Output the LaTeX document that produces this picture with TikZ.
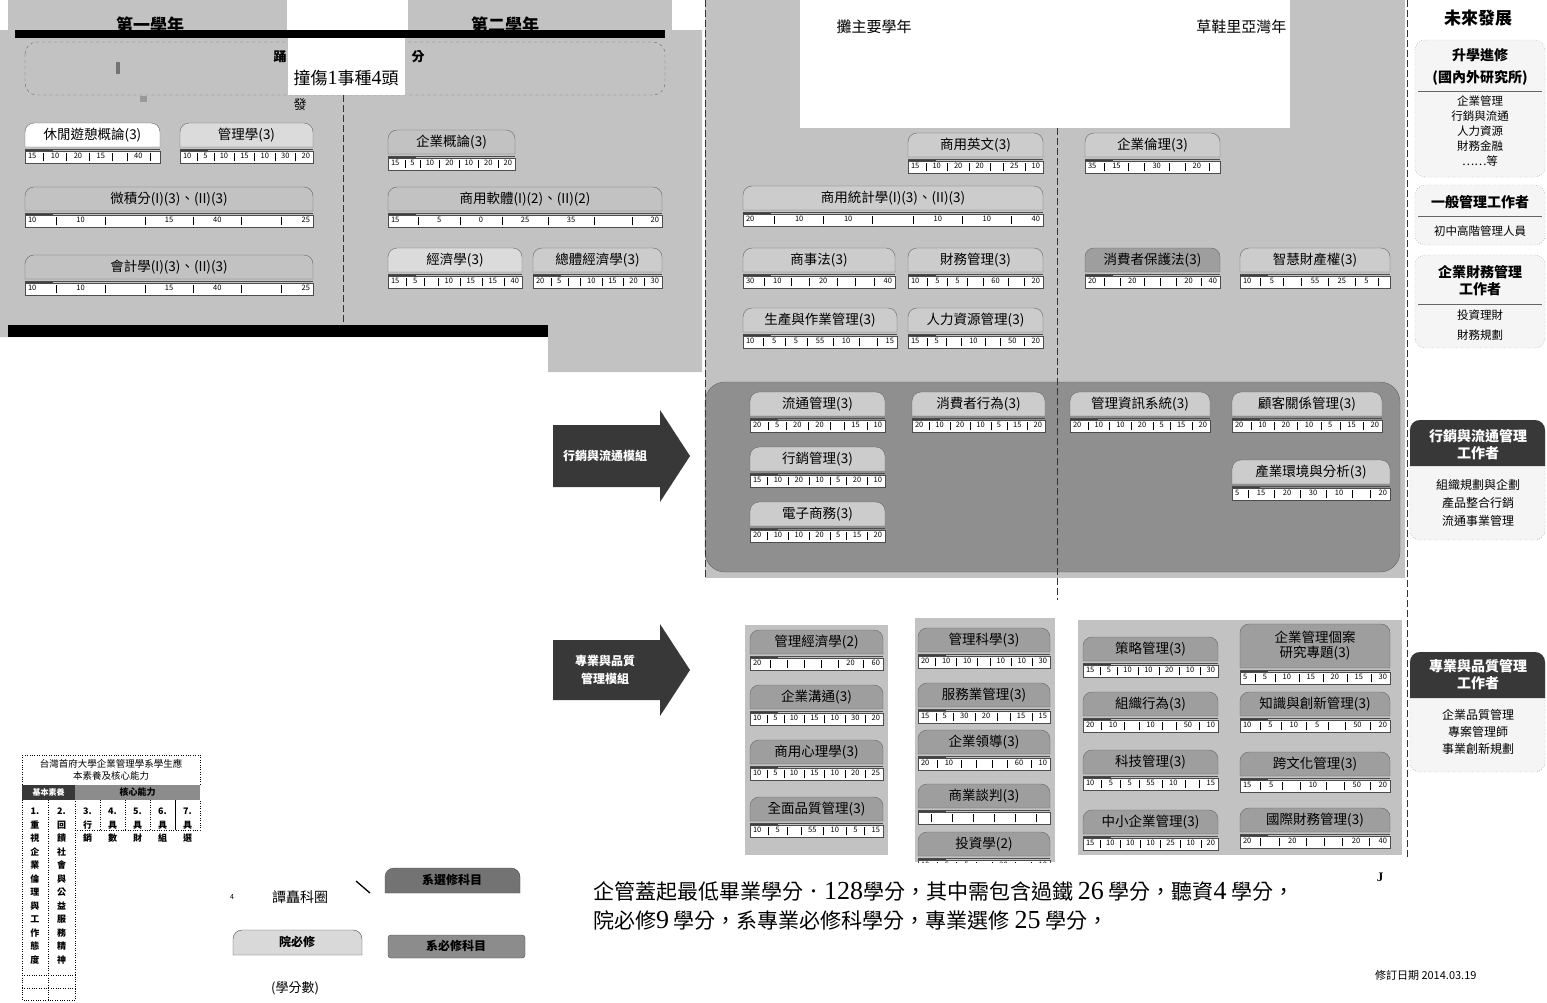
\documentclass[tikz,border=0pt]{standalone}
\usepackage{fontspec}
\setmainfont{Noto Sans CJK TC}
\newfontfamily\sernum{Liberation Serif}
\usetikzlibrary{calc}
\definecolor{bgg}{gray}{0.76}
\definecolor{modg}{gray}{0.56}
\definecolor{tabl}{gray}{0.86}
\definecolor{tabm}{gray}{0.80}
\definecolor{tabd}{gray}{0.62}
\definecolor{darkg}{gray}{0.22}
\def\tabh{24}
\newcommand\SEP{\hfill\vrule height 6pt depth 2.5pt width 0.4pt\hfill}
\newcommand\crs[7]{%
 \draw[draw=black!60, fill=#7] ({#2},{#4+\tabh}) [rounded corners=9pt] -- ({#2},{#4}) -- ({#3},{#4}) [sharp corners] -- ({#3},{#4+\tabh}) -- cycle;
 \node[crsname] (#1) at ({(#2+#3)/2},{#4+\tabh/2}) {#5};
 \draw[fill=white, draw=black!70] ({#2},{#4+\tabh+4}) rectangle ({#3},{#4+\tabh+16});
 \fill[black!75] ({#2},{#4+\tabh+1.5}) rectangle ({#2+28},{#4+\tabh+4});
 \draw[black!70] ({#2},{#4+\tabh+2.5}) -- ({#3},{#4+\tabh+2.5});
 \node[crsnum] (#1n) at ({(#2+#3)/2},{#4+\tabh+10}) {\hbox to \dimexpr #3pt-#2pt-6pt\relax{#6}};
}
\tikzset{
 crsname/.style={font=\fontsize{13.5}{15}\selectfont, inner sep=0pt, align=center},
 crsnum/.style={font=\fontsize{7.5}{8}\selectfont, inner sep=0pt},
 divline/.style={draw=black!80, dash pattern=on 7pt off 3pt, line width=1pt},
 fbox/.style={draw=black!60, dotted, fill=black!4, rounded corners=10pt},
 hdr/.style={font=\fontsize{14}{17}\selectfont\bfseries, inner sep=0pt, align=center},
 lst/.style={font=\fontsize{11.5}{15}\selectfont, inner sep=0pt, align=center},
 vt/.style={font=\fontsize{9}{13.5}\selectfont\bfseries, align=center, anchor=north, inner sep=0pt},
 arrowtxt/.style={font=\fontsize{12}{18}\selectfont\bfseries, text=white, align=center, inner sep=0pt},
}
\begin{document}
\begin{tikzpicture}[x=1pt,y=-1pt]
\useasboundingbox (0,0) rectangle (1547,1002);
\fill[white] (0,0) rectangle (1547,1002);

% ---------- left region (year 1 & 2)
\fill[bgg] (8,0) rectangle (287,30);
\fill[bgg] (408,0) rectangle (672,30);
\fill[bgg] (0,30) -- (702,30) -- (702,372) -- (548,372) -- (548,337) -- (0,337) -- cycle;
\node[font=\fontsize{17}{17}\selectfont\bfseries] (y1) at (150,25) {第一學年};
\node[font=\fontsize{17}{17}\selectfont\bfseries] (y2) at (505,25) {第二學年};
\fill[black] (15,30) rectangle (665,38);
\draw[draw=black!60, dashed, fill=bgg, rounded corners=12pt] (25,42) rectangle (665,95);
\node[font=\fontsize{13}{13}\selectfont\bfseries] (t1) at (280,57) {踊};
\node[font=\fontsize{13}{13}\selectfont\bfseries] (t2) at (418,57) {分};
\fill[white] (288,38) rectangle (405,95);
\node[font=\fontsize{17}{17}\selectfont] (t3) at (346,78) {撞傷{\sernum\fontsize{20}{20}\selectfont 1}事種{\sernum\fontsize{20}{20}\selectfont 4}頭};
\node[font=\fontsize{13}{13}\selectfont] (t4) at (300,105) {發};
\fill[black!55] (116,62) rectangle (120,74);
\fill[black!40] (140,96) rectangle (147,102);
\draw[divline] (343,95) -- (343,322);

\crs{c11}{25}{160}{123}{休閒遊憩概論(3)}{15\SEP10\SEP20\SEP15\SEP\SEP40\SEP}{white}
\crs{c12}{180}{313}{123}{管理學(3)}{10\SEP5\SEP10\SEP15\SEP10\SEP30\SEP20}{tabl}
\crs{c13}{25}{313}{187}{微積分(I)(3)、(II)(3)}{10\SEP10\SEP\SEP15\SEP40\SEP\SEP25}{bgg}
\crs{c14}{25}{313}{255}{會計學(I)(3)、(II)(3)}{10\SEP10\SEP\SEP15\SEP40\SEP\SEP25}{bgg}
\crs{c21}{388}{515}{130}{企業概論(3)}{15\SEP5\SEP10\SEP20\SEP10\SEP20\SEP20}{bgg}
\crs{c22}{388}{662}{187}{商用軟體(I)(2)、(II)(2)}{15\SEP5\SEP0\SEP25\SEP35\SEP\SEP20}{bgg}
\crs{c23}{388}{522}{248}{經濟學(3)}{15\SEP5\SEP\SEP10\SEP15\SEP15\SEP40}{tabl}
\crs{c24}{533}{662}{248}{總體經濟學(3)}{20\SEP5\SEP\SEP10\SEP15\SEP20\SEP30}{tabm}
\fill[black] (8,325) rectangle (548,337);

% ---------- middle region (year 3 & 4)
\fill[bgg] (705,0) rectangle (1405,578);
\fill[white] (800,0) rectangle (1290,128);
\node[font=\fontsize{15}{15}\selectfont, anchor=west] (y3) at (833,27) {攤主要學年};
\node[font=\fontsize{15}{15}\selectfont, anchor=east] (y4) at (1290,27) {草鞋里亞灣年};

\crs{c31}{908}{1043}{133}{商用英文(3)}{15\SEP10\SEP20\SEP20\SEP\SEP25\SEP10}{tabm}
\crs{c41}{1085}{1220}{133}{企業倫理(3)}{35\SEP15\SEP\SEP30\SEP\SEP20\SEP}{tabm}
\crs{c32}{743}{1043}{186}{商用統計學(I)(3)、(II)(3)}{20\SEP10\SEP10\SEP\SEP10\SEP10\SEP40}{tabm}
\crs{c33}{743}{895}{248}{商事法(3)}{30\SEP10\SEP\SEP20\SEP\SEP\SEP40}{tabm}
\crs{c34}{908}{1043}{248}{財務管理(3)}{10\SEP5\SEP5\SEP\SEP60\SEP\SEP20}{tabm}
\crs{c42}{1085}{1220}{248}{消費者保護法(3)}{20\SEP\SEP20\SEP\SEP\SEP20\SEP40}{tabd}
\crs{c43}{1240}{1390}{248}{智慧財產權(3)}{10\SEP5\SEP\SEP55\SEP25\SEP5\SEP}{tabm}
\crs{c35}{743}{897}{308}{生產與作業管理(3)}{10\SEP5\SEP5\SEP55\SEP10\SEP\SEP15}{tabm}
\crs{c36}{908}{1043}{308}{人力資源管理(3)}{15\SEP5\SEP\SEP10\SEP\SEP50\SEP20}{tabm}

% marketing module
\draw[draw=black!60, fill=modg, rounded corners=20pt] (705,382) rectangle (1400,572);
\crs{m1}{750}{885}{392}{流通管理(3)}{20\SEP5\SEP20\SEP20\SEP\SEP15\SEP10}{tabm}
\crs{m2}{912}{1045}{392}{消費者行為(3)}{20\SEP10\SEP20\SEP10\SEP5\SEP15\SEP20}{tabm}
\crs{m3}{1070}{1210}{392}{管理資訊系統(3)}{20\SEP10\SEP10\SEP20\SEP5\SEP15\SEP20}{tabm}
\crs{m4}{1232}{1382}{392}{顧客關係管理(3)}{20\SEP10\SEP20\SEP10\SEP5\SEP15\SEP20}{tabm}
\crs{m5}{750}{885}{447}{行銷管理(3)}{15\SEP10\SEP20\SEP10\SEP5\SEP20\SEP10}{tabm}
\crs{m6}{1232}{1390}{460}{產業環境與分析(3)}{5\SEP15\SEP20\SEP30\SEP10\SEP\SEP20}{tabm}
\crs{m7}{750}{885}{502}{電子商務(3)}{20\SEP10\SEP10\SEP20\SEP5\SEP15\SEP20}{tabm}

\draw[divline] (705,0) -- (705,578);
\draw[divline] (1057,128) -- (1057,600);
\draw[divline] (1407,0) -- (1407,860);

% arrows
\fill[darkg] (553,425) -- (660,425) -- (660,410) -- (690,456) -- (660,502) -- (660,487) -- (553,487) -- cycle;
\node[arrowtxt] (a1) at (605,456) {行銷與流通模組};
\fill[darkg] (553,640) -- (660,640) -- (660,624) -- (690,670) -- (660,716) -- (660,700) -- (553,700) -- cycle;
\node[arrowtxt] (a2) at (605,670) {專業與品質\\管理模組};

% ---------- professional module
\fill[bgg] (745,625) rectangle (888,855);
\fill[bgg] (915,618) rectangle (1055,862);
\fill[bgg] (1078,620) rectangle (1402,855);
\crs{p1}{750}{883}{630}{管理經濟學(2)}{20\SEP\SEP\SEP\SEP\SEP20\SEP60}{tabd}
\crs{p2}{750}{883}{685}{企業溝通(3)}{10\SEP5\SEP10\SEP15\SEP10\SEP30\SEP20}{tabd}
\crs{p3}{750}{883}{740}{商用心理學(3)}{10\SEP5\SEP10\SEP15\SEP10\SEP20\SEP25}{tabd}
\crs{p4}{750}{883}{797}{全面品質管理(3)}{10\SEP5\SEP\SEP55\SEP10\SEP5\SEP15}{tabd}
\crs{q1}{918}{1050}{628}{管理科學(3)}{20\SEP10\SEP10\SEP\SEP10\SEP10\SEP30}{tabd}
\crs{q2}{918}{1050}{683}{服務業管理(3)}{15\SEP5\SEP30\SEP20\SEP\SEP15\SEP15}{tabd}
\crs{q3}{918}{1050}{730}{企業領導(3)}{20\SEP10\SEP\SEP\SEP\SEP60\SEP10}{tabd}
\crs{q4}{918}{1050}{784}{商業談判(3)}{\SEP\SEP\SEP\SEP\SEP\SEP}{tabd}
\crs{q5}{918}{1050}{832}{投資學(2)}{10\SEP5\SEP5\SEP\SEP20\SEP\SEP10}{tabd}
\fill[white] (910,863) rectangle (1060,880);
\crs{r1}{1083}{1218}{637}{策略管理(3)}{15\SEP5\SEP10\SEP10\SEP20\SEP10\SEP30}{tabd}
\crs{r2}{1083}{1218}{692}{組織行為(3)}{20\SEP10\SEP\SEP10\SEP\SEP50\SEP10}{tabd}
\crs{r3}{1083}{1218}{750}{科技管理(3)}{10\SEP5\SEP5\SEP55\SEP10\SEP\SEP15}{tabd}
\crs{r4}{1083}{1218}{810}{中小企業管理(3)}{15\SEP10\SEP10\SEP10\SEP25\SEP10\SEP20}{tabd}
{\def\tabh{44}
\crs{s1}{1240}{1390}{624}{企業管理個案\\研究專題(3)}{5\SEP5\SEP10\SEP15\SEP20\SEP15\SEP30}{tabd}}
\crs{s2}{1240}{1390}{692}{知識與創新管理(3)}{10\SEP5\SEP10\SEP5\SEP\SEP50\SEP20}{tabd}
\crs{s3}{1240}{1390}{752}{跨文化管理(3)}{15\SEP5\SEP\SEP10\SEP\SEP50\SEP20}{tabd}
\crs{s4}{1240}{1390}{808}{國際財務管理(3)}{20\SEP\SEP20\SEP\SEP\SEP20\SEP40}{tabd}

% ---------- right column
\node[font=\fontsize{17}{17}\selectfont\bfseries] (fut) at (1478,18) {未來發展};
\draw[fbox] (1415,40) rectangle (1545,177);
\node[hdr] (f1a) at (1480,55) {升學進修};
\node[hdr] (f1b) at (1480,78) {(國內外研究所)};
\draw[black!60] (1418,91) -- (1542,91);
\node[lst] (f1c) at (1480,131) {企業管理\\行銷與流通\\人力資源\\財務金融\\……等};
\draw[fbox] (1415,185) rectangle (1545,245);
\node[hdr] (f2a) at (1480,202) {一般管理工作者};
\draw[black!60] (1418,216) -- (1542,216);
\node[lst] (f2b) at (1480,231) {初中高階管理人員};
\draw[fbox] (1415,255) rectangle (1545,348);
\node[hdr] (f3a) at (1480,281) {企業財務管理\\工作者};
\draw[black!60] (1418,304) -- (1542,304);
\node[lst, font=\fontsize{11.5}{20}\selectfont] (f3b) at (1480,325) {投資理財\\財務規劃};

\draw[fbox] (1410,420) rectangle (1545,540);
\fill[darkg] (1410,466) [rounded corners=10pt] -- (1410,420) -- (1545,420) [sharp corners] -- (1545,466) -- cycle;
\node[hdr, text=white] (f4a) at (1478,445) {行銷與流通管理\\工作者};
\node[lst, font=\fontsize{12}{18}\selectfont] (f4b) at (1478,503) {組織規劃與企劃\\產品整合行銷\\流通事業管理};

\draw[fbox] (1410,652) rectangle (1545,772);
\fill[darkg] (1410,698) [rounded corners=10pt] -- (1410,652) -- (1545,652) [sharp corners] -- (1545,698) -- cycle;
\node[hdr, text=white] (f5a) at (1478,675) {專業與品質管理\\工作者};
\node[lst, font=\fontsize{12}{17}\selectfont] (f5b) at (1478,732) {企業品質管理\\專案管理師\\事業創新規劃};

% ---------- legend table
\draw[dotted] (22,755) rectangle (200,785);
\node[font=\fontsize{9.5}{12.5}\selectfont, align=center, inner sep=0pt] (lt) at (111,770) {台灣首府大學企業管理學系學生應\\本素養及核心能力};
\fill[darkg] (22,785) rectangle (75,800);
\fill[black!45] (75,785) rectangle (200,800);
\node[font=\fontsize{8}{8}\selectfont\bfseries, text=white, inner sep=0pt] (lh1) at (48.5,792.5) {基本素養};
\node[font=\fontsize{9}{9}\selectfont\bfseries, inner sep=0pt] (lh2) at (137.5,792.5) {核心能力};
\draw[dotted] (22,800) -- (22,1000) -- (75,1000) -- (75,800);
\draw[dotted] (48,800) -- (48,1000);
\draw[dotted] (22,975) -- (75,975);
\draw[dotted] (22,988) -- (75,988);
\draw[dotted] (75,830) -- (200,830) -- (200,800);
\draw[dotted] (100,800) -- (100,830);
\draw[dotted] (125,800) -- (125,830);
\draw[dotted] (150,800) -- (150,830);
\draw (175,800) -- (175,830);
\node[vt] (v1) at (35,808) {1.\\重\\視\\企\\業\\倫\\理\\與\\工\\作\\態\\度};
\node[vt] (v2) at (61.5,808) {2.\\回\\饋\\社\\會\\與\\公\\益\\服\\務\\精\\神};
\node[vt] (v3) at (87.5,808) {3.\\行\\銷};
\node[vt] (v4) at (112.5,808) {4.\\具\\數};
\node[vt] (v5) at (137.5,808) {5.\\具\\財};
\node[vt] (v6) at (162.5,808) {6.\\具\\組};
\node[vt] (v7) at (187.5,808) {7.\\具\\選};

% ---------- legend keys
\node[font=\fontsize{7}{7}\selectfont] (k0) at (232,897) {4};
\node[font=\fontsize{14}{14}\selectfont] (k1) at (300,897) {譚矗科圈};
\coordinate (sl1) at (356,881);
\coordinate (sl2) at (370,893);
\draw[line width=1.3pt] (sl1) -- (sl2);
\draw[draw=black!70, fill=black!55] (385,893) [rounded corners=9pt] -- (385,868) -- (520,868) [sharp corners] -- (520,893) -- cycle;
\node[font=\fontsize{12}{12}\selectfont\bfseries] (k2) at (452,880) {系選修科目};
\draw[draw=black!70, fill=black!15] (233,955) [rounded corners=9pt] -- (233,930) -- (362,930) [sharp corners] -- (362,955) -- cycle;
\node[font=\fontsize{12}{12}\selectfont\bfseries] (k3) at (297,942) {院必修};
\draw[draw=black!70, fill=black!45, rounded corners=3pt] (388,935) rectangle (525,958);
\node[font=\fontsize{12}{12}\selectfont\bfseries] (k4) at (456,946) {系必修科目};
\node[font=\fontsize{13}{13}\selectfont] (k5) at (295,988) {(學分數)};

% ---------- bottom text
\node[font=\fontsize{21}{21}\selectfont, anchor=west, inner sep=0pt] (b1) at (593,891) {企管蓋起最低畢業學分．{\sernum\fontsize{26}{26}\selectfont 128}學分，其中需包含過鐵 {\sernum\fontsize{26}{26}\selectfont 26} 學分，聽資{\sernum\fontsize{26}{26}\selectfont 4} 學分，};
\node[font=\fontsize{21}{21}\selectfont, anchor=west, inner sep=0pt] (b2) at (593,920) {院必修{\sernum\fontsize{26}{26}\selectfont 9} 學分，系專業必修科學分，專業選修 {\sernum\fontsize{26}{26}\selectfont 25} 學分，};
\node[font=\sernum\fontsize{13}{13}\selectfont\bfseries] (jj) at (1380,877) {J};
\node[font=\fontsize{11}{11}\selectfont, anchor=east] (rev) at (1480,975) {修訂日期 2014.03.19};
\end{tikzpicture}
\end{document}
